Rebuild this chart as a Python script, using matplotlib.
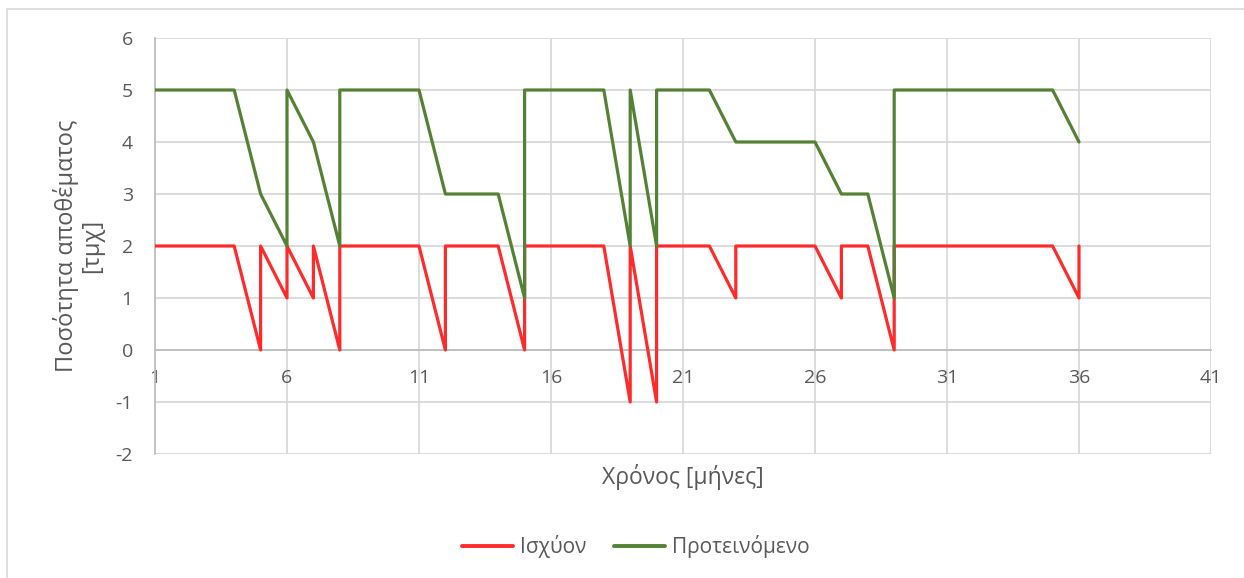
import matplotlib.pyplot as plt
from matplotlib.patches import Rectangle
from matplotlib.lines import Line2D

plt.rcParams['font.family'] = ['Open Sans', 'DejaVu Sans']
plt.rcParams['axes.unicode_minus'] = False

# ------------------------------
# Inventory level per month (breakpoints, repeated x = restock jump)
# ------------------------------
current_x = [1, 4, 5, 5, 6, 6, 7, 7, 8, 8, 11, 12, 12, 14, 15, 15, 18, 19, 19, 20, 20,
             22, 23, 23, 26, 27, 27, 28, 29, 29, 35, 36, 36]
current_y = [2, 2, 0, 2, 1, 2, 1, 2, 0, 2, 2, 0, 2, 2, 0, 2, 2, -1, 2, -1, 2,
             2, 1, 2, 2, 1, 2, 2, 0, 2, 2, 1, 2]

proposed_x = [1, 4, 5, 6, 6, 7, 8, 8, 11, 12, 14, 15, 15, 18, 19, 19, 20, 20,
              22, 23, 26, 27, 28, 29, 29, 35, 36]
proposed_y = [5, 5, 3, 2, 5, 4, 2, 5, 5, 3, 3, 1, 5, 5, 2, 5, 2, 5,
              5, 4, 4, 3, 3, 1, 5, 5, 4]

x_ticks = [1, 6, 11, 16, 21, 26, 31, 36, 41]
y_ticks = [-2, -1, 0, 1, 2, 3, 4, 5, 6]

RED = '#FF2B2B'
GREEN = '#548235'
TEXT = '#595959'
GRID = '#D9D9D9'

W, H = 1244, 578
fig = plt.figure(figsize=(W / 100, H / 100), dpi=100)

# chart area border
fig.patches.append(Rectangle((7 / W, -0.1), 1.2, 1 - 9 / H + 0.1, transform=fig.transFigure,
                             fill=False, edgecolor='#D9D9D9', linewidth=1.2))

ax = fig.add_axes([155 / W, 1 - 454 / H, (1211 - 155) / W, (454 - 38) / H])

ax.plot(current_x, current_y, color=RED, linewidth=2.3, solid_joinstyle='round',
        solid_capstyle='round', label='Ισχύον', zorder=3)
ax.plot(proposed_x, proposed_y, color=GREEN, linewidth=2.3, solid_joinstyle='round',
        solid_capstyle='round', label='Προτεινόμενο', zorder=4)

ax.set_xlim(1, 41)
ax.set_ylim(-2, 6)
ax.set_xticks(x_ticks)
ax.set_yticks(y_ticks)
ax.grid(True, color=GRID, linewidth=1.3)
ax.set_axisbelow(True)

for s in ['top', 'right']:
    ax.spines[s].set_visible(False)
ax.spines['bottom'].set_position(('data', 0))
ax.spines['bottom'].set_color('#BFBFBF')
ax.spines['bottom'].set_linewidth(1.3)
ax.spines['left'].set_color('#BFBFBF')
ax.spines['left'].set_linewidth(1.3)

ax.tick_params(axis='both', length=0, labelsize=14, labelcolor=TEXT)
ax.tick_params(axis='x', pad=14)
ax.tick_params(axis='y', pad=16)

ax.set_ylabel('Ποσότητα αποθέματος\n[τμχ]', fontsize=17, color=TEXT, labelpad=8,
              linespacing=1.05)
fig.text((155 + 1211) / 2 / W, 1 - 477 / H, 'Χρόνος [μήνες]', fontsize=16.5, color=TEXT,
         ha='center', va='center')

handles = [Line2D([], [], color=RED, linewidth=2.8, solid_capstyle='round'),
           Line2D([], [], color=GREEN, linewidth=2.8, solid_capstyle='round')]
fig.legend(handles, ['Ισχύον', 'Προτεινόμενο'], loc='center', ncol=2,
           bbox_to_anchor=(636 / W, 1 - 547 / H), frameon=False, fontsize=15,
           labelcolor=TEXT, handlelength=2.45, handletextpad=0.35, columnspacing=1.3)

fig.savefig('out.png', dpi=100)
